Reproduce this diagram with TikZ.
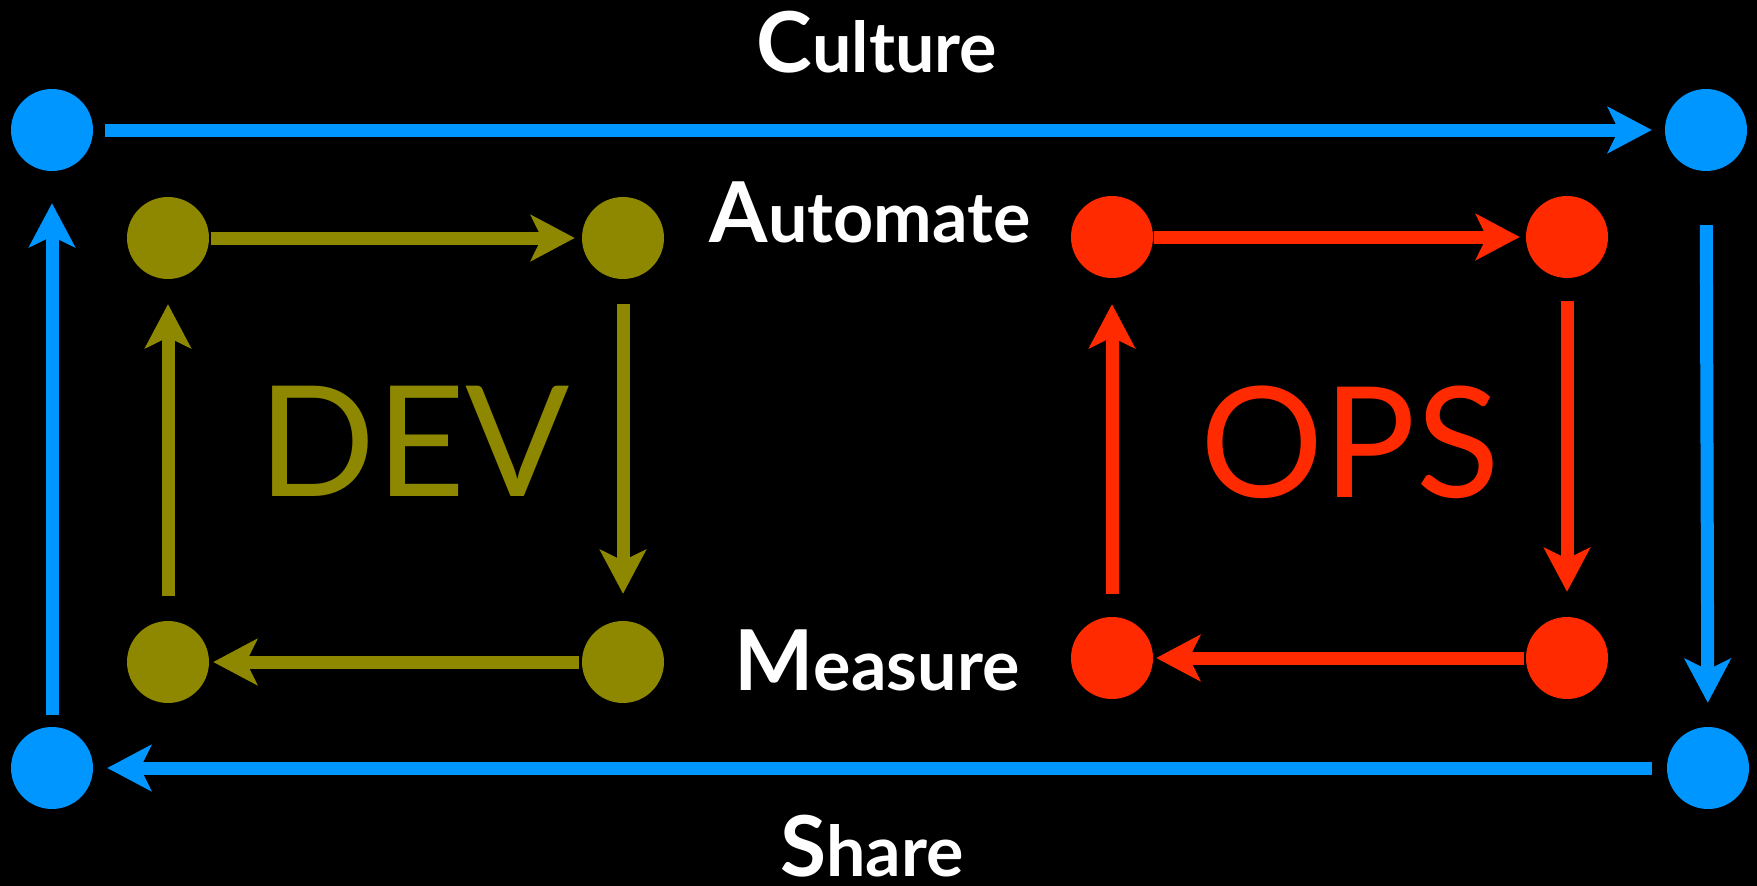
\documentclass[tikz,border=0pt]{standalone}
\usepackage{fontspec}
\setmainfont{Lato}
\usetikzlibrary{arrows.meta}
\definecolor{cblue}{RGB}{0,150,255}
\definecolor{colive}{RGB}{142,135,0}
\definecolor{cred}{RGB}{255,42,0}
\tikzset{
  dot/.style={circle, minimum size=82pt, inner sep=0pt, draw=none},
  bdot/.style={dot, fill=cblue},
  odot/.style={dot, fill=colive},
  rdot/.style={dot, fill=cred},
  conn/.style={line width=13pt, -{Stealth[length=44pt, width=46pt, inset=11pt]}},
  lab/.style={text=white, inner sep=0pt, anchor=base, text depth=0pt, font=\bfseries\fontsize{70}{70}\selectfont},
  big/.style={inner sep=0pt, anchor=base, font=\fontsize{154}{154}\selectfont}
}
\newcommand{\initial}[1]{{\fontsize{84}{84}\selectfont #1}}
\begin{document}
\begin{tikzpicture}[x=1pt,y=-1pt]
\fill[black] (0,0) rectangle (1757,886);
\useasboundingbox (0,0) rectangle (1757,886);
% blue outer
\node[bdot] (b1) at (52,130) {};
\node[bdot] (b2) at (1706,130) {};
\node[bdot] (b3) at (1708,768) {};
\node[bdot] (b4) at (52,768) {};
% olive
\node[odot] (o1) at (168,238) {};
\node[odot] (o2) at (623,238) {};
\node[odot] (o3) at (623,662) {};
\node[odot] (o4) at (168,662) {};
% red
\node[rdot] (r1) at (1112,237) {};
\node[rdot] (r2) at (1567,237) {};
\node[rdot] (r3) at (1567,658) {};
\node[rdot] (r4) at (1112,658) {};
% blue connectors
\draw[conn, cblue, shorten <=12pt, shorten >=13pt] (b1) -- (b2);
\draw[conn, cblue, shorten <=54pt, shorten >=24pt] (b2) -- (b3);
\draw[conn, cblue, shorten <=15pt, shorten >=14pt] (b3) -- (b4);
\draw[conn, cblue, shorten <=12pt, shorten >=32pt] (b4) -- (b1);
% olive connectors
\draw[conn, colive, shorten <=2pt, shorten >=7pt] (o1) -- (o2);
\draw[conn, colive, shorten <=25pt, shorten >=27pt] (o2) -- (o3);
\draw[conn, colive, shorten <=3pt, shorten >=4pt] (o3) -- (o4);
\draw[conn, colive, shorten <=25pt, shorten >=25pt] (o4) -- (o1);
% red connectors
\draw[conn, cred, shorten <=1pt, shorten >=6pt] (r1) -- (r2);
\draw[conn, cred, shorten <=23pt, shorten >=25pt] (r2) -- (r3);
\draw[conn, cred, shorten <=2pt, shorten >=3pt] (r3) -- (r4);
\draw[conn, cred, shorten <=23pt, shorten >=26pt] (r4) -- (r1);
% labels
\node[lab] (culture) at (877,72) {\initial{C}ulture};
\node[lab] (automate) at (870,242) {\initial{A}utomate};
\node[lab] (measure) at (877,690) {\initial{M}easure};
\node[lab] (share) at (872,876) {\initial{S}hare};
\node[big, text=colive] (dev) at (414,496) {DEV};
\node[big, text=cred] (ops) at (1350,497) {OPS};
\end{tikzpicture}
\end{document}
